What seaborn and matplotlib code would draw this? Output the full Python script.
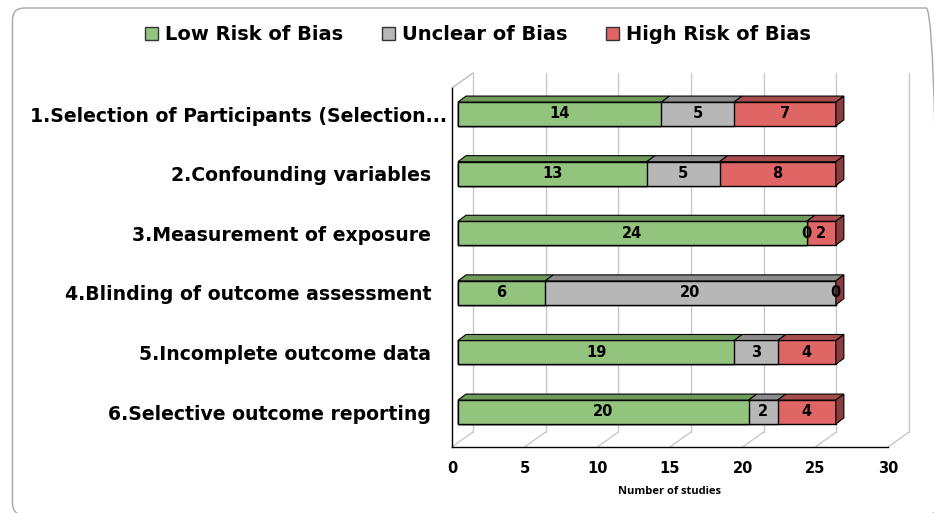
import numpy as np
import pandas as pd
import matplotlib
matplotlib.use("Agg")
import matplotlib.pyplot as plt
import seaborn as sns
from matplotlib.transforms import ScaledTranslation, blended_transform_factory
from matplotlib.patches import Polygon, FancyBboxPatch, Patch

# ---------------- data ----------------
categories = [
    "1.Selection of Participants (Selection...",
    "2.Confounding variables",
    "3.Measurement of exposure",
    "4.Blinding of outcome assessment",
    "5.Incomplete outcome data",
    "6.Selective outcome reporting",
]
low = [14, 13, 24, 6, 19, 20]
unclear = [5, 5, 0, 20, 3, 2]
high = [7, 8, 2, 0, 4, 4]
series_names = ["Low Risk of Bias", "Unclear of Bias", "High Risk of Bias"]
x_ticks = [0, 5, 10, 15, 20, 25, 30]
x_label = "Number of studies"

# ---------------- style ----------------
front_colors = ["#93c47d", "#b7b7b7", "#e06666"]
top_colors = ["#6f9a5b", "#8c8c8c", "#a84d4d"]
side_color = "#8b3d3d"

sns.set_theme(style="white")
plt.rcParams["font.family"] = ["DejaVu Sans"]
plt.rcParams["text.color"] = "black"
plt.rcParams["xtick.color"] = "black"
plt.rcParams["ytick.color"] = "black"
plt.rcParams["axes.labelcolor"] = "black"

W, H = 934, 513
fig = plt.figure(figsize=(W / 100, H / 100), dpi=100)
ax_l, ax_r, ax_t, ax_b = 452, 888, 88, 447
ax = fig.add_axes([ax_l / W, (H - ax_b) / H, (ax_r - ax_l) / W, (ax_b - ax_t) / H])

df = pd.DataFrame({"cat": categories, "low": low, "unclear": unclear, "high": high})
df["c1"] = df["low"]
df["c2"] = df["low"] + df["unclear"]
df["c3"] = df["c2"] + df["high"]

bar_w = 0.4
for col, colr in [("c3", front_colors[2]), ("c2", front_colors[1]), ("c1", front_colors[0])]:
    sns.barplot(data=df, x=col, y="cat", orient="h", color=colr, saturation=1,
                width=bar_w, edgecolor="black", linewidth=1.0, ax=ax, zorder=3)

ax.set_xlim(0, 30)
ax.set_ylim(5 + (ax_b - 412) / 59.6, -(114 - ax_t) / 59.6)

# pixel -> data conversions
ppx = (ax_r - ax_l) / 30.0
ylo, yhi = ax.get_ylim()
ppy = (ax_b - ax_t) / (ylo - yhi)

shift = ScaledTranslation(6 / 100, 0, fig.dpi_scale_trans)
trans_bar = ax.transData + shift
for p in ax.patches:
    p.set_transform(trans_bar)

dx = 8 / ppx
dy = 6 / ppy

starts = [np.zeros(len(low)), df["c1"].values, df["c2"].values]
widths = [np.array(low), np.array(unclear), np.array(high)]
for s in range(3):
    for i in range(len(categories)):
        x0 = starts[s][i]
        w = widths[s][i]
        yt = i - bar_w / 2
        if w > 0:
            poly = Polygon([(x0, yt), (x0 + w, yt), (x0 + w + dx, yt - dy), (x0 + dx, yt - dy)],
                           closed=True, facecolor=top_colors[s], edgecolor="black",
                           linewidth=0.8, transform=trans_bar, zorder=3)
            ax.add_patch(poly)
        ax.text(x0 + w / 2, i, str(w), ha="center", va="center", fontsize=10.5,
                fontweight="bold", color="black", transform=trans_bar, zorder=5)

# right face
for i in range(len(categories)):
    xe = df["c3"].values[i]
    yt = i - bar_w / 2
    yb = i + bar_w / 2
    poly = Polygon([(xe, yt), (xe + dx, yt - dy), (xe + dx, yb - dy), (xe, yb)],
                   closed=True, facecolor=side_color, edgecolor="black",
                   linewidth=0.8, transform=trans_bar, zorder=3)
    ax.add_patch(poly)

# 3D frame: back gridlines, floor diagonals, wall top
bt = blended_transform_factory(ax.transData, ax.transAxes)
depth_x = 21 / ppx
depth_y = 15 / (ax_b - ax_t)
for xt in x_ticks:
    ax.plot([xt + depth_x, xt + depth_x], [depth_y, 1 + depth_y], color="#c9c9c9",
            lw=1.0, transform=bt, clip_on=False, zorder=0)
    ax.plot([xt, xt + depth_x], [0, depth_y], color="#c9c9c9",
            lw=1.0, transform=bt, clip_on=False, zorder=0)
ax.plot([0, depth_x], [1, 1 + depth_y], color="#bdbdbd", lw=1.0,
        transform=bt, clip_on=False, zorder=0)

for side in ["top", "right"]:
    ax.spines[side].set_visible(False)
for side in ["left", "bottom"]:
    ax.spines[side].set_visible(True)
    ax.spines[side].set_color("black")
    ax.spines[side].set_linewidth(1.0)

ax.set_xticks(x_ticks)
ax.set_xticklabels([str(t) for t in x_ticks], fontsize=10.5, fontweight="bold", color="black")
ax.tick_params(axis="x", length=0, pad=10)
ax.tick_params(axis="y", length=0, pad=15)
ax.set_yticks(range(len(categories)))
ax.set_yticklabels(categories, fontsize=13.6, fontweight="bold", color="black")
lab0 = ax.get_yticklabels()[0]
lab0.set_transform(lab0.get_transform() + ScaledTranslation(16 / 100, 0, fig.dpi_scale_trans))
ax.set_ylabel("")
ax.set_xlabel("")
ax.grid(False)

fig.text(670 / W, 1 - 492 / H, x_label, ha="center", va="center", color="black",
         fontsize=8, fontweight="bold", family=["Open Sans", "DejaVu Sans"])

handles = [Patch(facecolor=c, edgecolor="#333333", linewidth=1.0) for c in front_colors]
leg = fig.legend(handles, series_names, loc="center", bbox_to_anchor=(478 / W, 1 - 35 / H),
                 ncol=3, frameon=False, prop={"size": 14, "weight": "bold"},
                 handlelength=0.67, handleheight=0.67, handletextpad=0.34,
                 columnspacing=2.0, borderpad=0, borderaxespad=0)
for t in leg.get_texts():
    t.set_color("black")

# page border (in inches, 100 px per inch)
border = FancyBboxPatch((12.5 / 100, -2 / 100), (938 - 12.5) / 100, (515 - 8) / 100,
                        boxstyle="round,pad=0,rounding_size=0.12",
                        transform=fig.dpi_scale_trans, facecolor="none",
                        edgecolor="#a6a6a6", linewidth=1.0, clip_on=False)
fig.patches.append(border)

fig.savefig("out.png", dpi=100)
